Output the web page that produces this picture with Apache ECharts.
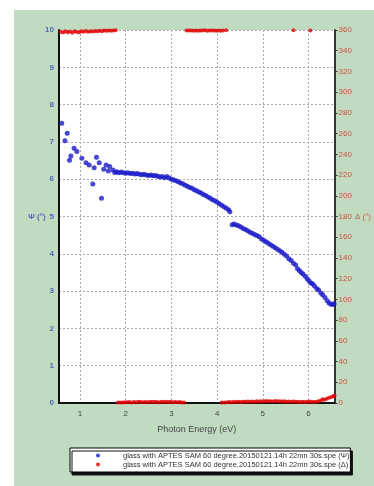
<!DOCTYPE html>
<html>
<head>
<meta charset="utf-8">
<script src="https://cdn.jsdelivr.net/npm/echarts@6/dist/echarts.min.js"></script>
<style>
  html, body { margin: 0; padding: 0; background: #fff; }
  #panel {
    position: absolute; left: 14px; top: 10px;
    width: 360px; height: 476px;
    background: #c1dbc1;
  }
  #my_echart { width: 100%; height: 100%; }
</style>
</head>
<body>
<div id="panel"><div id="my_echart"></div></div>
<script>
// Ψ (left axis) : photon energy (eV) and value (°)
let psiEnergy = [
  0.60, 0.67, 0.72, 0.77, 0.80, 0.87, 0.93, 1.04, 1.13, 1.20,
  1.28, 1.31, 1.36, 1.42, 1.47, 1.52, 1.57, 1.62, 1.65, 1.72,
  1.76, 1.80, 1.85, 1.90, 1.95, 2.00, 2.05, 2.10, 2.15, 2.20,
  2.25, 2.30, 2.35, 2.40, 2.45, 2.50, 2.55, 2.60, 2.65, 2.70,
  2.75, 2.80, 2.85, 2.90, 2.95, 3.00, 3.05, 3.10, 3.15, 3.20,
  3.25, 3.30, 3.35, 3.40, 3.45, 3.50, 3.55, 3.60, 3.65, 3.70,
  3.75, 3.80, 3.85, 3.90, 3.95, 4.00, 4.05, 4.10, 4.15, 4.20,
  4.25, 4.28,
  4.33, 4.37, 4.42, 4.47, 4.52, 4.57, 4.62, 4.67, 4.72, 4.77,
  4.82, 4.87, 4.92, 4.97, 5.02, 5.07, 5.12, 5.17, 5.22, 5.27,
  5.32, 5.37, 5.42, 5.47, 5.52, 5.57, 5.62, 5.67, 5.72, 5.76,
  5.80, 5.84, 5.88, 5.93, 5.97, 6.01, 6.05, 6.09, 6.13, 6.18,
  6.22, 6.27, 6.31, 6.36, 6.41, 6.45, 6.49, 6.53, 6.56
];
let psiValue = [
  7.50, 7.03, 7.23, 6.51, 6.62, 6.83, 6.74, 6.56, 6.44, 6.38,
  5.87, 6.31, 6.59, 6.44, 5.49, 6.27, 6.38, 6.22, 6.34, 6.25,
  6.18, 6.20, 6.17, 6.19, 6.17, 6.16, 6.17, 6.15, 6.16, 6.14,
  6.15, 6.13, 6.12, 6.13, 6.11, 6.10, 6.11, 6.09, 6.10, 6.08,
  6.06, 6.07, 6.04, 6.07, 6.03, 6.00, 5.98, 5.96, 5.93, 5.90,
  5.88, 5.84, 5.81, 5.78, 5.76, 5.72, 5.69, 5.66, 5.63, 5.59,
  5.56, 5.52, 5.49, 5.45, 5.42, 5.38, 5.34, 5.30, 5.26, 5.22,
  5.18, 5.13,
  4.78, 4.80, 4.77, 4.75, 4.72, 4.68, 4.65, 4.62, 4.58, 4.55,
  4.52, 4.49, 4.46, 4.40, 4.36, 4.32, 4.28, 4.24, 4.20, 4.16,
  4.12, 4.08, 4.04, 3.99, 3.94, 3.87, 3.82, 3.75, 3.70, 3.60,
  3.55, 3.50, 3.46, 3.40, 3.33, 3.28, 3.22, 3.20, 3.14, 3.07,
  3.03, 2.95, 2.90, 2.83, 2.74, 2.68, 2.65, 2.64, 2.66
];

// Δ (right axis) : wraps between ~360 and ~0
let deltaEnergy = [
  0.58, 0.63, 0.68, 0.73, 0.78, 0.83, 0.88, 0.93, 0.98, 1.03,
  1.08, 1.13, 1.18, 1.23, 1.28, 1.33, 1.38, 1.43, 1.48, 1.53,
  1.58, 1.63, 1.68, 1.73, 1.78,
  1.83, 1.88, 1.93, 1.98, 2.03, 2.08, 2.13, 2.18, 2.23, 2.28,
  2.33, 2.38, 2.43, 2.48, 2.53, 2.58, 2.63, 2.68, 2.73, 2.78,
  2.83, 2.88, 2.93, 2.98, 3.03, 3.08, 3.13, 3.18, 3.23, 3.28,
  3.33, 3.38, 3.43, 3.48, 3.53, 3.58, 3.63, 3.68, 3.73, 3.78,
  3.83, 3.88, 3.93, 3.98, 4.03, 4.08, 4.13, 4.20,
  4.10, 4.16, 4.22, 4.27, 4.32, 4.37, 4.42, 4.47, 4.52, 4.57,
  4.62, 4.67, 4.72, 4.77, 4.82, 4.87, 4.92, 4.97, 5.02, 5.07,
  5.12, 5.17, 5.22, 5.27, 5.32, 5.37, 5.42, 5.47, 5.52, 5.57,
  5.62, 5.67, 5.72, 5.77, 5.82, 5.87, 5.92, 5.97, 6.02, 6.07,
  6.12, 6.17, 6.22, 6.27, 6.31, 6.35, 6.40, 6.45, 6.50, 6.54,
  6.57, 5.67, 6.04
];
let deltaValue = [
  358.2, 357.6, 358.8, 357.9, 358.5, 357.4, 358.9, 358.1, 357.8, 358.7,
  358.3, 359.0, 358.4, 358.9, 358.6, 359.1, 358.8, 359.3, 358.9, 359.4,
  359.2, 359.5, 359.3, 359.6, 359.7,
  0.4, 0.6, 0.5, 0.8, 0.7, 0.9, 0.6, 1.0, 0.8, 1.1,
  0.9, 0.7, 1.0, 0.8, 1.1, 0.9, 1.2, 1.0, 0.8, 1.1,
  0.9, 1.2, 1.0, 1.1, 0.8, 1.0, 0.7, 0.9, 0.6, 0.5,
  359.6, 359.4, 359.5, 359.3, 359.6, 359.2, 359.5, 359.4, 359.7, 359.3,
  359.5, 359.6, 359.4, 359.2, 359.5, 359.3, 359.6, 359.7,
  0.4, 0.6, 0.8, 1.0, 0.7, 1.1, 0.9, 1.2, 1.0, 1.3,
  1.1, 1.4, 1.2, 1.5, 1.3, 1.6, 1.4, 1.8, 1.5, 1.9,
  1.6, 1.8, 1.5, 1.9, 1.6, 1.7, 1.4, 1.6, 1.3, 1.5,
  1.2, 1.4, 1.1, 1.3, 1.0, 1.2, 0.9, 1.1, 1.4, 1.2,
  1.0, 1.3, 1.6, 2.4, 3.6, 3.1, 4.2, 5.0, 5.8, 6.5,
  7.2, 359.7, 359.4
];

// tick labels
let xTicks = [1, 2, 3, 4, 5, 6];
let psiName = "Ψ (°)";
let deltaName = "Δ (°)";
let legendNames = [
  "glass with APTES SAM 60 degree.20150121.14h 22mn 30s.spe (Ψ)",
  "glass with APTES SAM 60 degree.20150121.14h 22mn 30s.spe (Δ)",
];

let pairs = (xs, ys) => xs.map((x, i) => [x, ys[i]]);

let getchart = echarts.init(document.getElementById("my_echart"));
let font = "Liberation Sans, Arial, sans-serif";
let option = {
  animation: false,
  textStyle: { fontFamily: font },
  grid: {
    left: 45,
    top: 20,
    right: 38,
    bottom: 83,
    show: true,
    backgroundColor: "#fff",
    borderWidth: 0,
  },
  legend: {
    data: legendNames,
    orient: "vertical",
    left: 56,
    top: 438,
    padding: [3, 1, 3, 26],
    itemGap: 0,
    itemWidth: 40,
    itemHeight: 4,
    icon: "circle",
    backgroundColor: "#fff",
    borderColor: "#000",
    borderWidth: 1,
    shadowColor: "#111",
    shadowBlur: 0,
    shadowOffsetX: 2,
    shadowOffsetY: 3,
    textStyle: { fontSize: 7.5, color: "#333", lineHeight: 9, fontFamily: font },
  },
  xAxis: {
    type: "value",
    min: 0.54,
    max: 6.57,
    name: "Photon Energy (eV)",
    nameLocation: "middle",
    nameGap: 22,
    nameTextStyle: { fontSize: 9, color: "#444" },
    axisLine: { onZero: false, lineStyle: { color: "#111", width: 2 } },
    axisTick: { show: false },
    axisLabel: {
      fontSize: 8,
      color: "#444",
      margin: 7,
      showMinLabel: false,
      showMaxLabel: false,
      formatter: (v) => (xTicks.indexOf(v) >= 0 ? String(v) : ""),
    },
    splitLine: { lineStyle: { color: "#aaa", type: [2, 2], width: 1 } },
  },
  yAxis: [
    {
      type: "value",
      min: 0,
      max: 10,
      interval: 1,
      axisLine: { show: true, onZero: false, lineStyle: { color: "#111", width: 2 } },
      axisTick: { show: false },
      axisLabel: {
        fontSize: 8,
        color: "#5565c0",
        fontWeight: "bold",
        margin: 5,
        // axis name sits beside the middle tick, as in the original
        formatter: (v) => (v === 5 ? "{n|" + psiName + "}" + v : String(v)),
        rich: { n: { fontSize: 8, color: "#5565c0", padding: [0, 4, 0, 0] } },
      },
      splitLine: { lineStyle: { color: "#aaa", type: [2, 2], width: 1 } },
    },
    {
      type: "value",
      min: 0,
      max: 360,
      interval: 20,
      position: "right",
      axisLine: { show: true, onZero: false, lineStyle: { color: "#333", width: 2 } },
      axisTick: { show: true, length: 3, lineStyle: { color: "#333" } },
      axisLabel: {
        fontSize: 8,
        color: "#d05040",
        margin: 4,
        formatter: (v) => (v === 180 ? v + "{n|" + deltaName + "}" : String(v)),
        rich: { n: { fontSize: 8, color: "#d05040", padding: [0, 0, 0, 3] } },
      },
      splitLine: { show: false },
    },
  ],
  series: [
    {
      name: legendNames[0],
      type: "scatter",
      yAxisIndex: 0,
      symbolSize: 5,
      itemStyle: { color: "#1a1ac8" },
      data: pairs(psiEnergy, psiValue),
    },
    {
      name: legendNames[1],
      type: "scatter",
      yAxisIndex: 1,
      symbolSize: 4,
      itemStyle: { color: "#e00000" },
      data: pairs(deltaEnergy, deltaValue),
    },
  ],
};
getchart.setOption(option);
</script>
</body>
</html>
